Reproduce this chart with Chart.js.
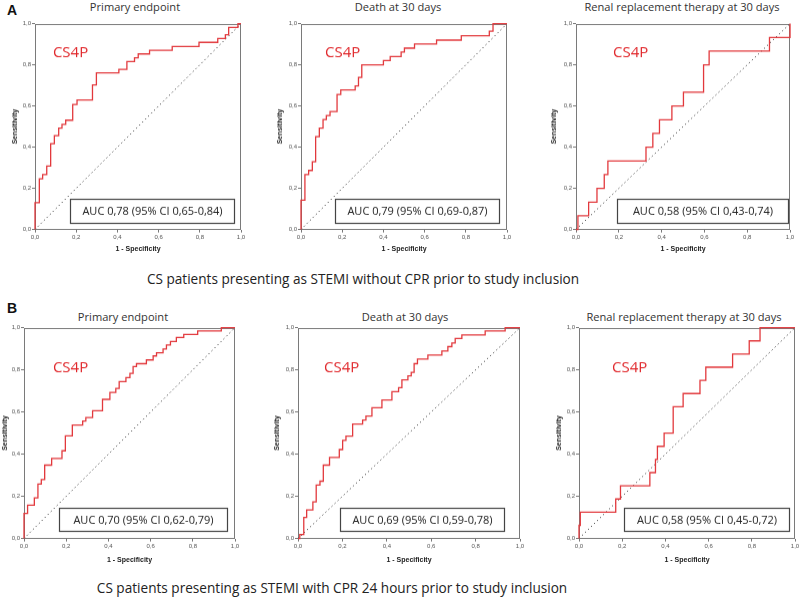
<!DOCTYPE html>
<html>
<head>
<meta charset="utf-8">
<script src="https://cdn.jsdelivr.net/npm/chart.js@4.4.1/dist/chart.umd.min.js"></script>
<style>
  html, body { margin: 0; padding: 0; background: #fff; }
  body { position: relative; width: 800px; height: 600px; overflow: hidden; font-family: "Open Sans", sans-serif; }
  .lbl { position: absolute; transform: translate(-50%, -50%); white-space: nowrap; line-height: 1; color: #333; }
  .panelTitle { font-size: 11.1px; }
  .caption { font-size: 13.6px; color: #222; }
  .letter { font-family: "Liberation Sans", Arial, sans-serif; font-weight: bold; font-size: 14px; color: #111; }
  .wrap { position: absolute; }
</style>
</head>
<body>
<script>
// ---------------- data ----------------
const tickLabels = ['0,0', '0,2', '0,4', '0,6', '0,8', '1,0'];
const xAxisTitle = '1 - Specificity';
const yAxisTitle = 'Sensitivity';
const modelName = 'CS4P';
const letters = ['A', 'B'];
const captions = [
  'CS patients presenting as STEMI without CPR prior to study inclusion',
  'CS patients presenting as STEMI with CPR 24 hours prior to study inclusion'
];
const panelTitles = ['Primary endpoint', 'Death at 30 days', 'Renal replacement therapy at 30 days',
                     'Primary endpoint', 'Death at 30 days', 'Renal replacement therapy at 30 days'];
const aucLabels = ['AUC 0,78 (95% CI 0,65-0,84)', 'AUC 0,79 (95% CI 0,69-0,87)', 'AUC 0,58 (95% CI 0,43-0,74)',
                   'AUC 0,70 (95% CI 0,62-0,79)', 'AUC 0,69 (95% CI 0,59-0,78)', 'AUC 0,58 (95% CI 0,45-0,72)'];

// ROC steps: false-positive rate where sensitivity jumps, and the sensitivity reached
const a1Fpr = [0, 0.021, 0.037, 0.057, 0.076, 0.094, 0.115, 0.131, 0.149, 0.183, 0.204, 0.279, 0.298, 0.407, 0.446, 0.483, 0.501, 0.556, 0.666, 0.796, 0.887, 0.924, 0.940, 0.985];
const a1Tpr = [0.13, 0.246, 0.267, 0.308, 0.417, 0.456, 0.493, 0.511, 0.531, 0.607, 0.629, 0.702, 0.761, 0.778, 0.816, 0.834, 0.853, 0.871, 0.889, 0.909, 0.928, 0.946, 0.982, 1.0];

const a2Fpr = [0, 0.019, 0.037, 0.055, 0.071, 0.089, 0.107, 0.123, 0.141, 0.175, 0.193, 0.263, 0.279, 0.295, 0.400, 0.433, 0.486, 0.502, 0.551, 0.658, 0.778, 0.914, 0.932];
const a2Tpr = [0.143, 0.267, 0.287, 0.329, 0.451, 0.493, 0.534, 0.554, 0.573, 0.656, 0.678, 0.697, 0.739, 0.800, 0.821, 0.840, 0.862, 0.881, 0.901, 0.920, 0.941, 0.963, 1.0];

const a3Fpr = [0.009, 0.059, 0.098, 0.132, 0.149, 0.327, 0.359, 0.390, 0.448, 0.502, 0.596, 0.622, 0.904, 1.0];
const a3Tpr = [0.067, 0.133, 0.200, 0.267, 0.333, 0.400, 0.467, 0.533, 0.600, 0.667, 0.800, 0.867, 0.933, 1.0];

const b1Fpr = [0, 0.017, 0.049, 0.066, 0.082, 0.098, 0.131, 0.180, 0.196, 0.229, 0.278, 0.293, 0.325, 0.372, 0.407, 0.435, 0.451, 0.483, 0.502, 0.517, 0.533, 0.580, 0.612, 0.628, 0.659, 0.675, 0.694, 0.722, 0.757, 0.823, 0.935];
const b1Tpr = [0.119, 0.158, 0.193, 0.258, 0.280, 0.348, 0.380, 0.416, 0.487, 0.538, 0.557, 0.574, 0.606, 0.660, 0.693, 0.712, 0.744, 0.763, 0.783, 0.815, 0.829, 0.847, 0.866, 0.881, 0.899, 0.918, 0.934, 0.953, 0.968, 0.984, 1.0];

const b2Fpr = [0.008, 0.026, 0.039, 0.067, 0.082, 0.099, 0.114, 0.142, 0.186, 0.201, 0.216, 0.246, 0.291, 0.306, 0.333, 0.378, 0.423, 0.453, 0.468, 0.495, 0.510, 0.523, 0.538, 0.585, 0.648, 0.675, 0.693, 0.708, 0.738, 0.843, 0.933];
const b2Tpr = [0.019, 0.100, 0.136, 0.174, 0.253, 0.272, 0.348, 0.384, 0.422, 0.465, 0.486, 0.543, 0.562, 0.581, 0.620, 0.657, 0.696, 0.715, 0.752, 0.771, 0.788, 0.829, 0.851, 0.870, 0.889, 0.910, 0.927, 0.949, 0.965, 0.984, 1.0];

const b3Fpr = [0, 0.006, 0.170, 0.192, 0.328, 0.354, 0.363, 0.394, 0.436, 0.482, 0.560, 0.587, 0.711, 0.788, 0.838];
const b3Tpr = [0.0625, 0.125, 0.1875, 0.25, 0.3125, 0.375, 0.4375, 0.5, 0.625, 0.6875, 0.75, 0.8125, 0.875, 0.9375, 1.0];

const chanceLine = [0, 1];

// ---------------- layout ----------------
const panels = [
  { fpr: a1Fpr, tpr: a1Tpr, plot: {x: 35,  y: 24,  w: 206, h: 205}, yW: 26, xH: 24, title: [135, 7],   box: [0.170, 0.966, 0.034, 0.151], tag: [0.087, 0.86] },
  { fpr: a2Fpr, tpr: a2Tpr, plot: {x: 301, y: 24,  w: 206, h: 205}, yW: 27, xH: 24, title: [398, 7],   box: [0.165, 0.961, 0.034, 0.151], tag: [0.117, 0.86] },
  { fpr: a3Fpr, tpr: a3Tpr, plot: {x: 576, y: 24,  w: 214, h: 205}, yW: 28, xH: 24, title: [682, 7],   box: [0.190, 0.990, 0.034, 0.151], tag: [0.173, 0.86] },
  { fpr: b1Fpr, tpr: b1Tpr, plot: {x: 24,  y: 328, w: 211, h: 210}, yW: 25, xH: 26, title: [123, 317], box: [0.166, 0.964, 0.038, 0.148], tag: [0.137, 0.81] },
  { fpr: b2Fpr, tpr: b2Tpr, plot: {x: 298, y: 328, w: 222, h: 210}, yW: 27, xH: 26, title: [405, 317], box: [0.190, 0.928, 0.038, 0.148], tag: [0.117, 0.81] },
  { fpr: b3Fpr, tpr: b3Tpr, plot: {x: 579, y: 328, w: 216, h: 210}, yW: 26, xH: 26, title: [684, 317], box: [0.210, 0.970, 0.038, 0.148], tag: [0.153, 0.81] }
];
const letterPos = [[12, 10], [12, 308]];
const captionPos = [[363, 279], [332, 588]];

const RED = '#e2383c';
const TICK_FONT = { family: 'Liberation Sans', size: 6 };
const AXIS_FONT = { family: 'Liberation Sans', size: 7, weight: 'bold' };

function addLabel(text, cls, pos) {
  const d = document.createElement('div');
  d.className = 'lbl ' + cls;
  d.textContent = text;
  d.style.left = pos[0] + 'px';
  d.style.top = pos[1] + 'px';
  document.body.appendChild(d);
}

function rocPoints(fpr, tpr) {
  const pts = [{x: 0, y: 0}];
  let prev = 0;
  for (let i = 0; i < fpr.length; i++) {
    pts.push({x: fpr[i], y: prev});
    pts.push({x: fpr[i], y: tpr[i]});
    prev = tpr[i];
  }
  pts.push({x: 1, y: prev});
  return pts;
}

const framePlugin = {
  id: 'frame',
  beforeDatasetsDraw(chart) {
    const a = chart.chartArea, ctx = chart.ctx;
    ctx.save();
    ctx.strokeStyle = '#7a7a7a';
    ctx.lineWidth = 1;
    ctx.strokeRect(Math.round(a.left) + 0.5, Math.round(a.top) + 0.5, Math.round(a.right - a.left) - 1, Math.round(a.bottom - a.top) - 1);
    ctx.restore();
  },
  afterDatasetsDraw(chart) {
    const p = chart.options.plugins.frame;
    const ctx = chart.ctx, xs = chart.scales.x, ys = chart.scales.y;
    ctx.save();
    // AUC box
    const x0 = Math.round(xs.getPixelForValue(p.box[0])) + 0.5;
    const x1 = Math.round(xs.getPixelForValue(p.box[1])) + 0.5;
    const y0 = Math.round(ys.getPixelForValue(p.box[3])) + 0.5;
    const y1 = Math.round(ys.getPixelForValue(p.box[2])) + 0.5;
    ctx.fillStyle = '#fff';
    ctx.fillRect(x0, y0, x1 - x0, y1 - y0);
    ctx.strokeStyle = '#444';
    ctx.lineWidth = 1.2;
    ctx.strokeRect(x0, y0, x1 - x0, y1 - y0);
    ctx.fillStyle = '#222';
    ctx.font = '11px "Open Sans"';
    ctx.textAlign = 'center';
    ctx.textBaseline = 'middle';
    ctx.fillText(p.auc, (x0 + x1) / 2, (y0 + y1) / 2 + 0.5);
    // model tag
    ctx.fillStyle = '#e0262a';
    ctx.font = '15px "Open Sans"';
    ctx.textAlign = 'left';
    ctx.fillText(modelName, xs.getPixelForValue(p.tag[0]), ys.getPixelForValue(p.tag[1]));
    ctx.restore();
  }
};

letters.forEach((t, i) => addLabel(t, 'letter', letterPos[i]));
captions.forEach((t, i) => addLabel(t, 'caption', captionPos[i]));

panels.forEach((p, i) => {
  addLabel(panelTitles[i], 'panelTitle', p.title);
  const wrap = document.createElement('div');
  wrap.className = 'wrap';
  wrap.style.width = (p.plot.w + 60) + 'px';
  wrap.style.height = (p.plot.h + 60) + 'px';
  const canvas = document.createElement('canvas');
  wrap.appendChild(canvas);
  document.body.appendChild(wrap);

  const chart = new Chart(canvas, {
    type: 'scatter',
    data: {
      datasets: [
        {
          data: rocPoints(p.fpr, p.tpr),
          showLine: true, borderColor: RED, borderWidth: 1.3,
          pointRadius: 0, tension: 0, fill: false, clip: 4, order: 1
        },
        {
          data: chanceLine.map(v => ({x: v, y: v})),
          showLine: true, borderColor: '#3a3a3a', borderWidth: 1,
          borderDash: [1.2, 3], pointRadius: 0, fill: false, order: 2
        }
      ]
    },
    options: {
      responsive: true,
      maintainAspectRatio: false,
      animation: false,
      events: [],
      layout: { padding: { top: 2, right: 4, left: 0, bottom: 0 } },
      plugins: {
        legend: { display: false },
        tooltip: { enabled: false },
        frame: { box: p.box, tag: p.tag, auc: aucLabels[i] }
      },
      scales: {
        x: {
          type: 'linear', min: 0, max: 1,
          afterFit: s => { s.height = p.xH; },
          border: { display: false },
          grid: { drawOnChartArea: false, drawTicks: true, tickLength: 3, color: '#777' },
          ticks: { stepSize: 0.2, padding: 1, maxRotation: 0, autoSkip: false, color: '#555', font: TICK_FONT,
                   callback: v => tickLabels[Math.round(v * 5)] },
          title: { display: true, text: xAxisTitle, color: '#222', font: AXIS_FONT, padding: { top: 2, bottom: 0 } }
        },
        y: {
          type: 'linear', min: 0, max: 1,
          afterFit: s => { s.width = p.yW; },
          border: { display: false },
          grid: { drawOnChartArea: false, drawTicks: true, tickLength: 3, color: '#777' },
          ticks: { stepSize: 0.2, padding: 1, autoSkip: false, color: '#555', font: TICK_FONT,
                   callback: v => tickLabels[Math.round(v * 5)] },
          title: { display: true, text: yAxisTitle, color: '#222', font: AXIS_FONT, padding: { top: 2, bottom: 0 } }
        }
      }
    },
    plugins: [framePlugin]
  });

  const ca = chart.chartArea;
  const mL = ca.left, mT = ca.top, mR = chart.width - ca.right, mB = chart.height - ca.bottom;
  wrap.style.width = (mL + p.plot.w + mR) + 'px';
  wrap.style.height = (mT + p.plot.h + mB) + 'px';
  wrap.style.left = (p.plot.x - mL) + 'px';
  wrap.style.top = (p.plot.y - mT) + 'px';
  chart.resize();
});
</script>
</body>
</html>
